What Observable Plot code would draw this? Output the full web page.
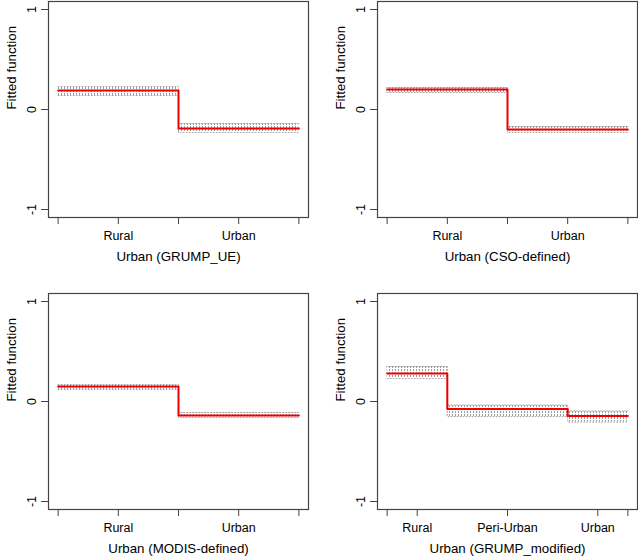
<!DOCTYPE html>
<html>
<head>
<meta charset="utf-8">
<script src="https://cdn.jsdelivr.net/npm/d3@7"></script>
<script src="https://cdn.jsdelivr.net/npm/@observablehq/plot@0.6"></script>
<style>
  html, body { margin: 0; padding: 0; background: white; }
  #chart { position: relative; width: 638px; height: 557px; background: white; }
  #chart svg { position: absolute; }
</style>
</head>
<body>
<div id="chart"></div>
<script>
// ---- data ----
const titles = ["Urban (GRUMP_UE)", "Urban (CSO-defined)", "Urban (MODIS-defined)", "Urban (GRUMP_modified)"];
const cats2 = ["Rural", "Urban"];
const cats3 = ["Rural", "Peri-Urban", "Urban"];
const bounds2 = [0, 0.5, 1];
const bounds3 = [0, 0.25, 0.75, 1];
const ticks2 = [0, 0.25, 0.5, 0.75, 1];
const ticks3 = [0, 0.125, 0.5, 0.875, 1];
const yTicks = [-1, 0, 1];

const grumpFit = [0.19, -0.19];
const grumpLo  = [0.14, -0.23];
const grumpHi  = [0.23, -0.14];

const csoFit = [0.20, -0.20];
const csoLo  = [0.17, -0.23];
const csoHi  = [0.22, -0.17];

const modisFit = [0.15, -0.14];
const modisLo  = [0.12, -0.16];
const modisHi  = [0.17, -0.11];

const grmodFit = [0.28, -0.075, -0.145];
const grmodLo  = [0.23, -0.15, -0.205];
const grmodHi  = [0.35, -0.035, -0.095];

// ---- layout ----
const panels = [
  {title: titles[0], cats: cats2, bounds: bounds2, ticks: ticks2, fit: grumpFit, lo: grumpLo, hi: grumpHi,
   left: 0, top: 0, width: 319, height: 270, mL: 48, mR: 11, mT: 1, mB: 53},
  {title: titles[1], cats: cats2, bounds: bounds2, ticks: ticks2, fit: csoFit, lo: csoLo, hi: csoHi,
   left: 319, top: 0, width: 319, height: 270, mL: 58, mR: 1, mT: 1, mB: 53},
  {title: titles[2], cats: cats2, bounds: bounds2, ticks: ticks2, fit: modisFit, lo: modisLo, hi: modisHi,
   left: 0, top: 270, width: 319, height: 287, mL: 48, mR: 11, mT: 23, mB: 48},
  {title: titles[3], cats: cats3, bounds: bounds3, ticks: ticks3, fit: grmodFit, lo: grmodLo, hi: grmodHi,
   left: 319, top: 270, width: 319, height: 287, mL: 58, mR: 1, mT: 23, mB: 48}
];

const font = "'Liberation Sans', Arial, Helvetica, sans-serif";
const chart = document.getElementById("chart");

panels.forEach((p, k) => {
  const rows = [];
  p.cats.forEach((c, i) => {
    rows.push({x: p.bounds[i], fit: p.fit[i], lo: p.lo[i], hi: p.hi[i]});
    rows.push({x: p.bounds[i + 1], fit: p.fit[i], lo: p.lo[i], hi: p.hi[i]});
  });
  const labelPos = new Map(p.cats.map((c, i) => [(p.bounds[i] + p.bounds[i + 1]) / 2, c]));
  const pid = "hatch" + k;

  const svg = Plot.plot({
    width: p.width,
    height: p.height,
    marginLeft: p.mL,
    marginRight: p.mR,
    marginTop: p.mT,
    marginBottom: p.mB,
    style: {fontFamily: font, fontSize: "12.5px", background: "white", color: "black"},
    x: {domain: [-0.04, 1.04], label: null},
    y: {domain: [-1.08, 1.08], label: null},
    marks: [
      Plot.areaY(rows, {x: "x", y1: "lo", y2: "hi", fill: `url(#${pid})`}),
      Plot.lineY(rows, {x: "x", y: "hi", stroke: "#a8a8a8", strokeWidth: 1, strokeDasharray: "1,2"}),
      Plot.lineY(rows, {x: "x", y: "lo", stroke: "#a8a8a8", strokeWidth: 1, strokeDasharray: "1,2"}),
      Plot.lineY(rows, {x: "x", y: "fit", stroke: "#ee0000", strokeWidth: 2}),
      Plot.frame({stroke: "#444", strokeWidth: 1.2}),
      Plot.axisX(p.ticks, {tickSize: 7, tickPadding: 7, stroke: "#444",
        tickFormat: d => labelPos.get(d) ?? "", fontSize: 12.5, fill: "black"}),
      Plot.axisY(yTicks, {tickSize: 7, stroke: "#444", tickFormat: () => ""}),
      Plot.text(yTicks, {y: d => d, text: d => String(d), frameAnchor: "left", dx: -17,
        rotate: -90, fontSize: 12.5, fill: "black", textAnchor: "middle", lineAnchor: "middle"}),
      Plot.text([p.title], {text: d => d, frameAnchor: "bottom", dy: 39, fontSize: 13.3,
        fill: "black", lineAnchor: "middle"}),
      Plot.text(["Fitted function"], {text: d => d, frameAnchor: "left", dx: -37, rotate: -90,
        fontSize: 13.3, fill: "black", lineAnchor: "middle"})
    ]
  });

  d3.select(svg).insert("defs", ":first-child").html(
    `<pattern id="${pid}" patternUnits="userSpaceOnUse" width="3" height="3">
       <rect x="1" y="0" width="1" height="2" fill="#9a9a9a"></rect>
     </pattern>`);
  svg.style.left = p.left + "px";
  svg.style.top = p.top + "px";
  chart.appendChild(svg);
});
</script>
</body>
</html>
